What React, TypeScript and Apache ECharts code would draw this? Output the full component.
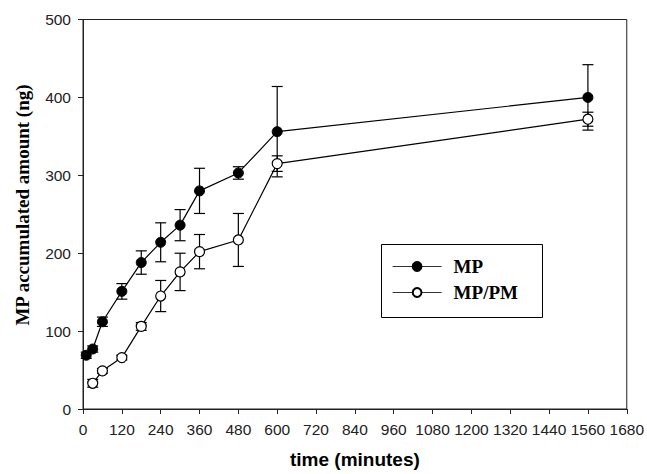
import React, { useEffect, useRef } from "react";
import * as echarts from "echarts";

const xTicksMax = 1680;
const mpTimes = [10, 30, 60, 120, 180, 240, 300, 360, 480, 600, 1560];
const mpValues = [69, 77, 112, 151, 188, 214, 236, 280, 303, 356, 400];
const mpErr = [4, 4, 6, 10, 15, 25, 20, 29, 8, 58, 42];
const pmTimes = [30, 60, 120, 180, 240, 300, 360, 480, 600, 1560];
const pmValues = [33, 49, 66, 106, 145, 176, 202, 217, 315, 372];
const pmErr = [5, 3, 3, 5, 20, 24, 22, 34, 10, 9];
const seriesNames = ["MP", "MP/PM"];

export default function App() {
  const ref = useRef<HTMLDivElement>(null);
  useEffect(() => {
    if (!ref.current) return;
    const chart = echarts.init(ref.current, null, { renderer: "svg" });
    const errData = (t: number[], v: number[], e: number[]) =>
      t.map((x, i) => [x, v[i] - e[i], v[i] + e[i]]);
    const renderErr = (params: any, api: any) => {
      const x = api.value(0);
      const lo = api.coord([x, api.value(1)]);
      const hi = api.coord([x, api.value(2)]);
      const hw = 5.5;
      const st = { stroke: "#000", lineWidth: 1.2 };
      return {
        type: "group",
        children: [
          { type: "line", shape: { x1: lo[0], y1: lo[1], x2: hi[0], y2: hi[1] }, style: st },
          { type: "line", shape: { x1: lo[0] - hw, y1: lo[1], x2: lo[0] + hw, y2: lo[1] }, style: st },
          { type: "line", shape: { x1: hi[0] - hw, y1: hi[1], x2: hi[0] + hw, y2: hi[1] }, style: st },
        ],
      };
    };
    const axisFont = { fontFamily: "Liberation Sans", fontSize: 15.5, color: "#222" };
    chart.setOption({
      animation: false,
      grid: {
        left: 83,
        right: 18,
        top: 19.5,
        bottom: 61.5,
        show: true,
        borderColor: "#222",
        borderWidth: 1,
      },
      xAxis: {
        type: "value",
        min: 0,
        max: xTicksMax,
        interval: 120,
        name: "time (minutes)",
        nameLocation: "middle",
        nameGap: 41,
        nameTextStyle: { fontFamily: "Liberation Sans", fontWeight: "bold", fontSize: 19, color: "#000" },
        axisLine: { lineStyle: { color: "#222", width: 1 } },
        axisTick: { length: 5, lineStyle: { color: "#222" } },
        axisLabel: { ...axisFont, margin: 12, formatter: (v: number) => String(v) },
        splitLine: { show: false },
      },
      yAxis: {
        type: "value",
        min: 0,
        max: 500,
        interval: 100,
        axisLine: { show: true, lineStyle: { color: "#222", width: 1 } },
        axisTick: { show: true, length: 5, lineStyle: { color: "#222" } },
        axisLabel: { ...axisFont, margin: 12, formatter: (v: number) => String(v) },
        splitLine: { show: false },
      },
      legend: {
        data: seriesNames,
        orient: "vertical",
        left: 392,
        top: 257,
        padding: 0,
        itemWidth: 49,
        itemHeight: 11,
        itemGap: 7,
        lineStyle: { color: "#333", width: 1.2 },
        textStyle: {
          fontFamily: "Liberation Serif",
          fontWeight: "bold",
          fontSize: 19,
          color: "#000",
          padding: [0, 0, 0, 7],
        },
      },
      graphic: [
        {
          type: "rect",
          shape: { x: 381.5, y: 244.5, width: 161, height: 73 },
          style: { fill: "none", stroke: "#000", lineWidth: 1 },
          z: 10,
        },
        {
          type: "text",
          x: 22,
          y: 205,
          rotation: Math.PI / 2,
          style: {
            text: "MP accumulated amount (ng)",
            font: "bold 19px 'Liberation Serif'",
            fill: "#000",
            textAlign: "center",
            textVerticalAlign: "middle",
          },
        },
      ],
      series: [
        {
          type: "custom",
          name: "MP err",
          data: errData(mpTimes, mpValues, mpErr),
          encode: { x: 0, y: [1, 2] },
          renderItem: renderErr,
          z: 1,
          silent: true,
        },
        {
          type: "custom",
          name: "MP/PM err",
          data: errData(pmTimes, pmValues, pmErr),
          encode: { x: 0, y: [1, 2] },
          renderItem: renderErr,
          z: 1,
          silent: true,
        },
        {
          type: "line",
          name: seriesNames[0],
          data: mpTimes.map((t, i) => [t, mpValues[i]]),
          symbol: "circle",
          symbolSize: 10,
          showAllSymbol: true,
          lineStyle: { color: "#000", width: 1.2 },
          itemStyle: { color: "#000", borderColor: "#000", borderWidth: 1 },
          z: 3,
        },
        {
          type: "line",
          name: seriesNames[1],
          data: pmTimes.map((t, i) => [t, pmValues[i]]),
          symbol: "circle",
          symbolSize: 10,
          showAllSymbol: true,
          lineStyle: { color: "#000", width: 1.2 },
          itemStyle: { color: "#fff", borderColor: "#000", borderWidth: 1.2 },
          z: 3,
        },
      ],
    });
    return () => chart.dispose();
  }, []);
  return (
    <div
      ref={ref}
      style={{ position: "absolute", left: 0, top: 0, width: 647, height: 474, background: "#fff" }}
    />
  );
}
